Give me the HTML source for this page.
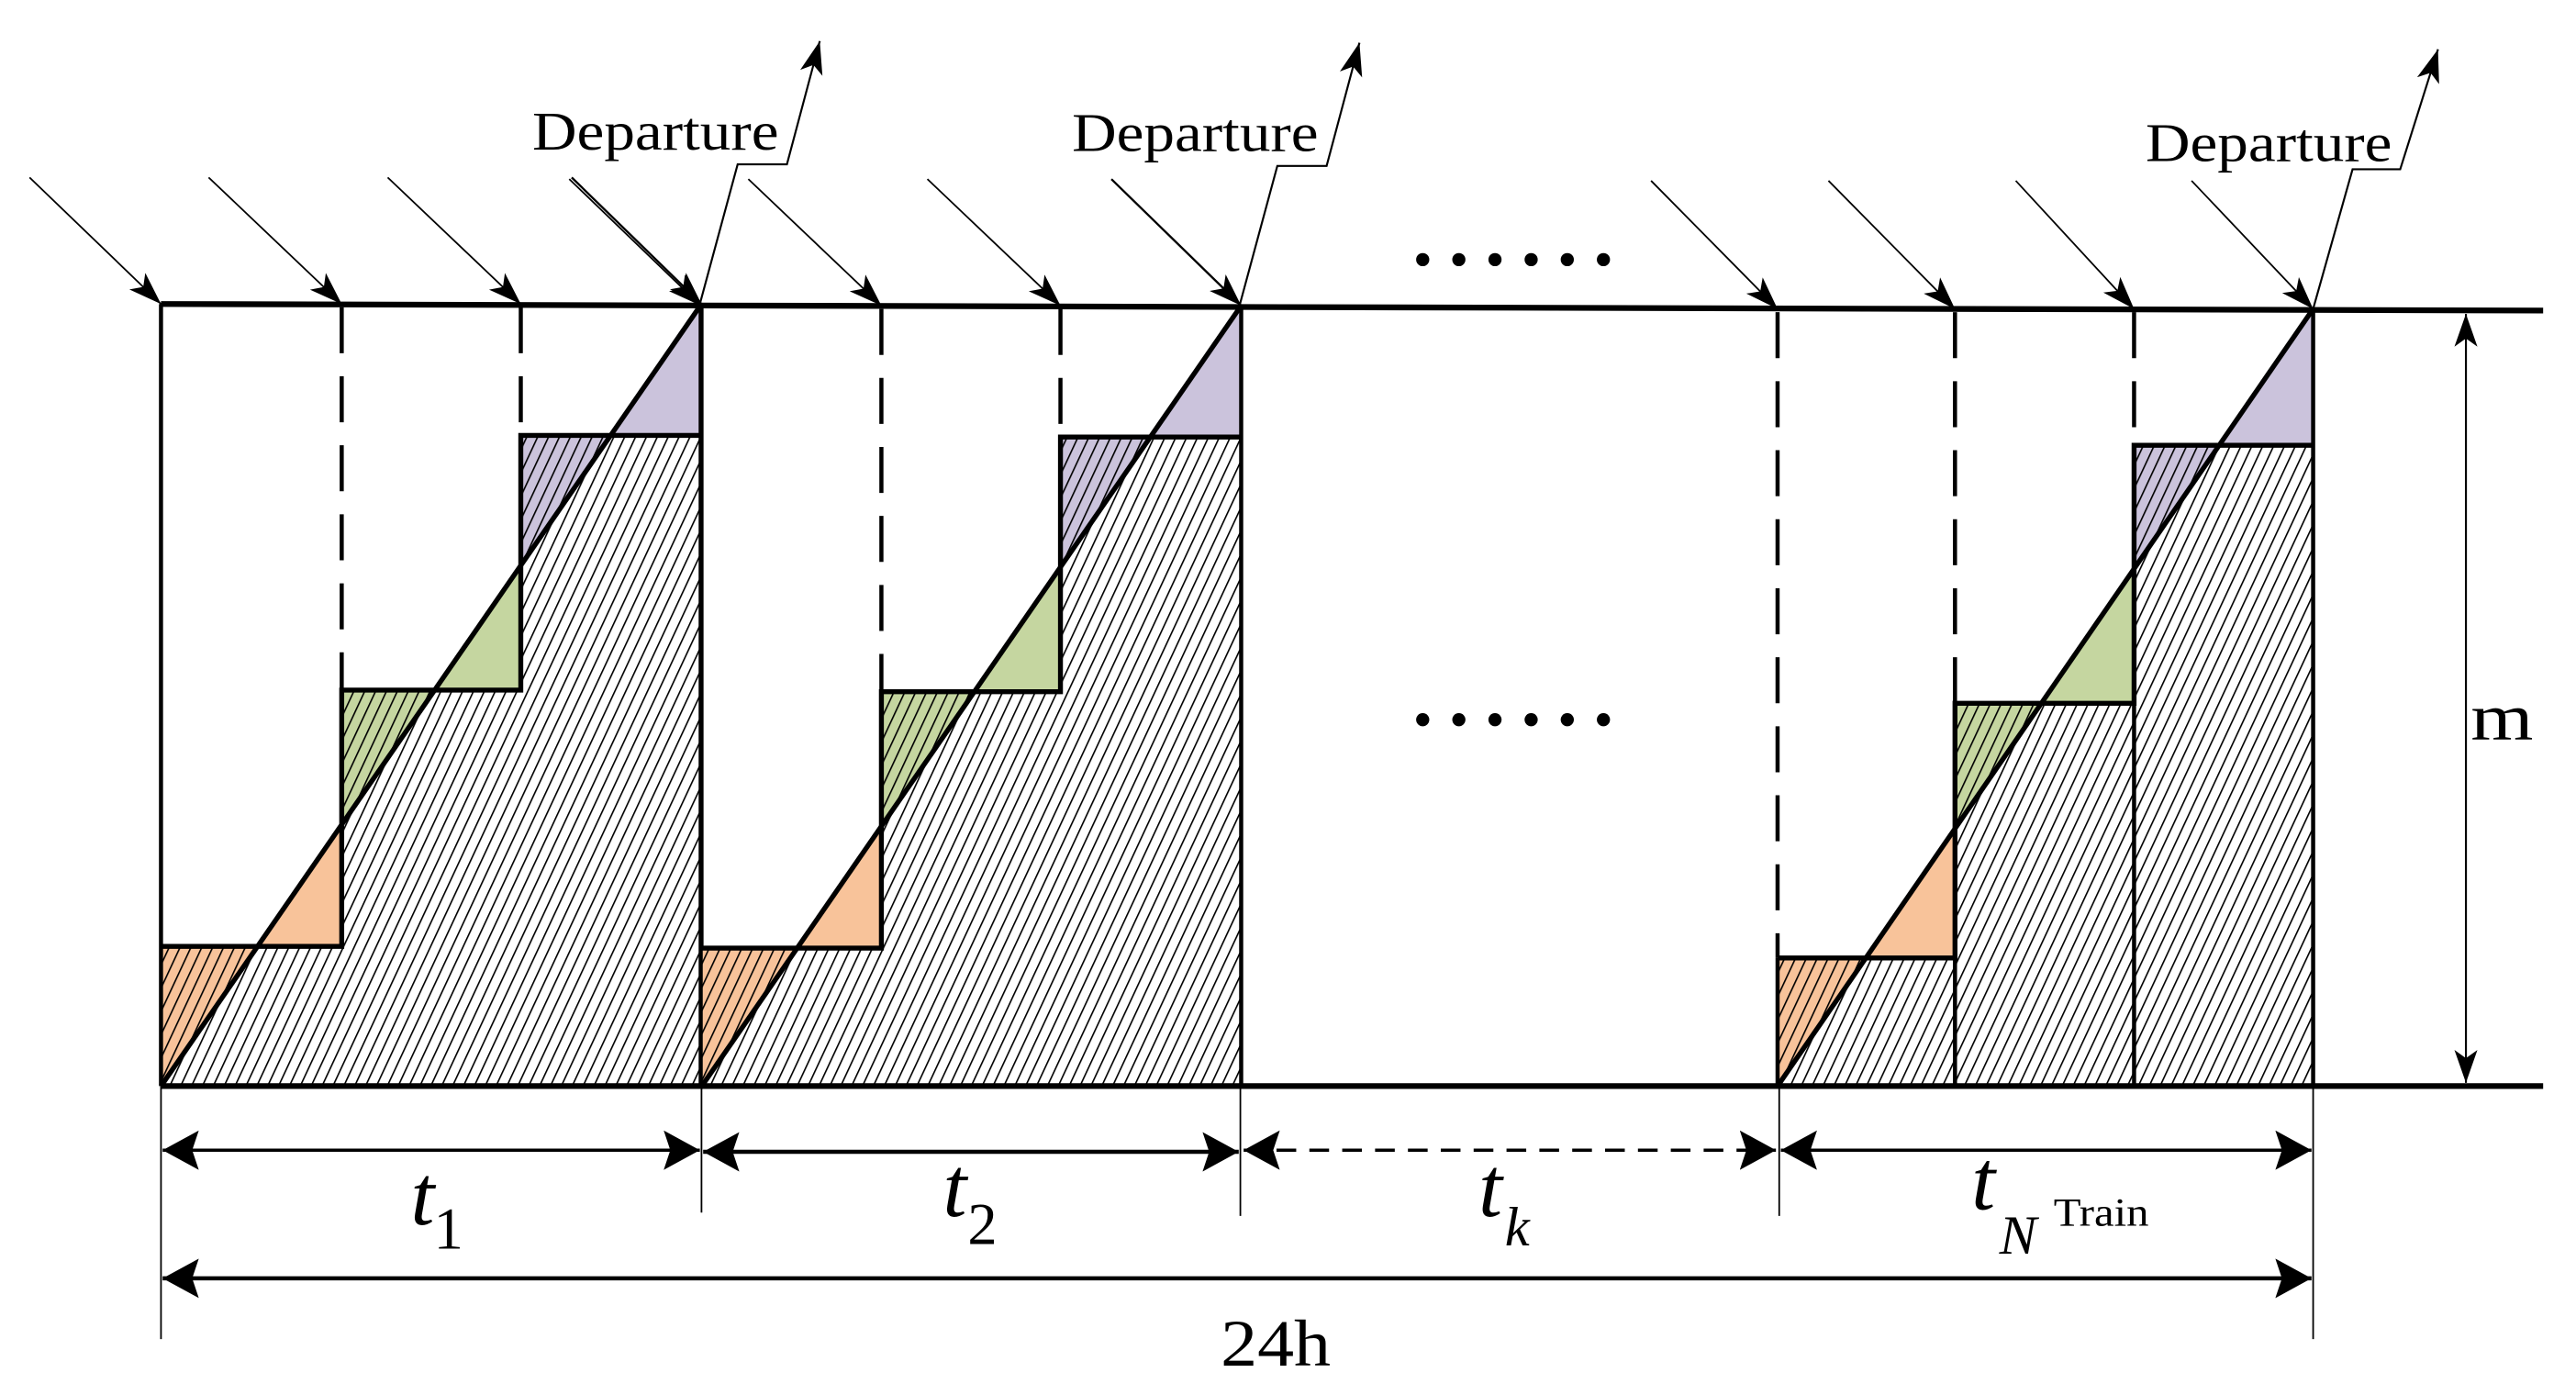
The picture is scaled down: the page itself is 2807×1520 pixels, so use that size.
<!DOCTYPE html>
<html><head><meta charset="utf-8"><style>
html,body{margin:0;padding:0;background:#fff;}
svg{display:block;}
text{font-family:"Liberation Serif",serif;fill:#000;}
</style></head><body>
<svg width="2807" height="1520" viewBox="0 0 1568 849" preserveAspectRatio="none" xmlns="http://www.w3.org/2000/svg">
<defs>
<pattern id="h" patternUnits="userSpaceOnUse" width="6" height="20" patternTransform="rotate(25)">
<line x1="1" y1="0" x2="1" y2="20" stroke="#000" stroke-width="0.9"/>
</pattern>
<marker id="a" markerUnits="userSpaceOnUse" markerWidth="24" markerHeight="16" refX="20" refY="7" orient="auto-start-reverse">
<path d="M0,0 L20,7 L0,14 L5,7 Z" fill="#000"/>
</marker>
<marker id="d" markerUnits="userSpaceOnUse" markerWidth="24" markerHeight="26" refX="22" refY="12" orient="auto-start-reverse">
<path d="M0,0 L22,12 L0,24 L4,12 Z" fill="#000"/>
</marker>
</defs>

<g id="box">
<polygon points="98,661 98,576 157,576" fill="#f8c39a"/>
<polygon points="157,576 208,576 208,502" fill="#f8c39a"/>
<polygon points="208,502 208,420 265,420" fill="#c5d6a0"/>
<polygon points="265,420 317,420 317,344" fill="#c5d6a0"/>
<polygon points="317,344 317,265 372,265" fill="#cbc3dc"/>
<polygon points="372,265 427,265 427,185" fill="#cbc3dc"/>
<polygon points="98,661 98,576 208,576 208,420 317,420 317,265 427,265 427,661" fill="url(#h)"/>
<polyline points="98,576 208,576 208,420 317,420 317,265 427,265" fill="none" stroke="#000" stroke-width="3"/>
<line x1="208" y1="187" x2="208" y2="420" stroke="#000" stroke-width="2.5" stroke-dasharray="28,14"/>
<line x1="317" y1="187" x2="317" y2="265" stroke="#000" stroke-width="2.5" stroke-dasharray="28,14"/>
<line x1="98" y1="185" x2="98" y2="661" stroke="#000" stroke-width="2.5"/>
<line x1="427" y1="185" x2="427" y2="661" stroke="#000" stroke-width="2.5"/>
<line x1="98" y1="661" x2="427" y2="185" stroke="#000" stroke-width="3"/>
<line x1="18" y1="108" x2="98" y2="185" stroke="#000" stroke-width="1" marker-end="url(#a)"/>
<line x1="127" y1="108" x2="208" y2="185" stroke="#000" stroke-width="1" marker-end="url(#a)"/>
<line x1="236" y1="108" x2="317" y2="185" stroke="#000" stroke-width="1" marker-end="url(#a)"/>
<line x1="348" y1="108" x2="427" y2="185" stroke="#000" stroke-width="1.3" marker-end="url(#a)"/>
<polyline points="426,185 449,100 479,100 499,25" fill="none" stroke="#000" stroke-width="1.2" marker-end="url(#a)"/>
<text x="324" y="91" font-size="33" textLength="150" lengthAdjust="spacingAndGlyphs">Departure</text>
</g>
<use href="#box" transform="translate(328.5,1)"/>

<line x1="98" y1="185" x2="1548" y2="189" stroke="#000" stroke-width="3.5"/>
<line x1="98" y1="661" x2="1548" y2="661" stroke="#000" stroke-width="3.5"/>

<polygon points="1082,661 1082,583 1136,583" fill="#f8c39a"/>
<polygon points="1136,583 1190,583 1190,504" fill="#f8c39a"/>
<polygon points="1190,504 1190,428 1243,428" fill="#c5d6a0"/>
<polygon points="1243,428 1299,428 1299,346" fill="#c5d6a0"/>
<polygon points="1299,346 1299,271 1351,271" fill="#cbc3dc"/>
<polygon points="1351,271 1408,271 1408,188" fill="#cbc3dc"/>
<polygon points="1082,661 1082,583 1190,583 1190,428 1299,428 1299,271 1408,271 1408,661" fill="url(#h)"/>
<polyline points="1082,583 1190,583 1190,428 1299,428 1299,271 1408,271" fill="none" stroke="#000" stroke-width="3"/>
<line x1="1082" y1="190" x2="1082" y2="583" stroke="#000" stroke-width="2.5" stroke-dasharray="28,14"/>
<line x1="1190" y1="190" x2="1190" y2="428" stroke="#000" stroke-width="2.5" stroke-dasharray="28,14"/>
<line x1="1299" y1="190" x2="1299" y2="271" stroke="#000" stroke-width="2.5" stroke-dasharray="28,14"/>
<line x1="1082" y1="583" x2="1082" y2="661" stroke="#000" stroke-width="2.5"/>
<line x1="1190" y1="428" x2="1190" y2="661" stroke="#000" stroke-width="2.5"/>
<line x1="1299" y1="271" x2="1299" y2="661" stroke="#000" stroke-width="2.5"/>
<line x1="1408" y1="188" x2="1408" y2="661" stroke="#000" stroke-width="2.5"/>
<line x1="1082" y1="661" x2="1408" y2="188" stroke="#000" stroke-width="3"/>
<line x1="1005" y1="110" x2="1082" y2="188" stroke="#000" stroke-width="1" marker-end="url(#a)"/>
<line x1="1113" y1="110" x2="1190" y2="188" stroke="#000" stroke-width="1" marker-end="url(#a)"/>
<line x1="1227" y1="110" x2="1299" y2="188" stroke="#000" stroke-width="1" marker-end="url(#a)"/>
<line x1="1334" y1="110" x2="1408" y2="188" stroke="#000" stroke-width="1" marker-end="url(#a)"/>
<polyline points="1408,188 1432,103 1461,103 1484,30" fill="none" stroke="#000" stroke-width="1.2" marker-end="url(#a)"/>
<text x="1306" y="98" font-size="33" textLength="150" lengthAdjust="spacingAndGlyphs">Departure</text>

<g fill="#000">
<circle cx="866" cy="158" r="4"/><circle cx="888" cy="158" r="4"/><circle cx="910" cy="158" r="4"/><circle cx="932" cy="158" r="4"/><circle cx="954" cy="158" r="4"/><circle cx="976" cy="158" r="4"/>
<circle cx="866" cy="438" r="4"/><circle cx="888" cy="438" r="4"/><circle cx="910" cy="438" r="4"/><circle cx="932" cy="438" r="4"/><circle cx="954" cy="438" r="4"/><circle cx="976" cy="438" r="4"/>
</g>

<line x1="1501" y1="191" x2="1501" y2="659" stroke="#000" stroke-width="1.2" marker-start="url(#a)" marker-end="url(#a)"/>
<text x="1504" y="450" font-size="40" textLength="38" lengthAdjust="spacingAndGlyphs">m</text>

<g stroke="#000" stroke-width="1">
<line x1="98" y1="661" x2="98" y2="815"/>
<line x1="427" y1="661" x2="427" y2="738"/>
<line x1="755" y1="661" x2="755" y2="740"/>
<line x1="1083" y1="661" x2="1083" y2="740"/>
<line x1="1408" y1="661" x2="1408" y2="815"/>
</g>
<line x1="99" y1="700" x2="426" y2="700" stroke="#000" stroke-width="2" marker-start="url(#d)" marker-end="url(#d)"/>
<line x1="428" y1="701" x2="754" y2="701" stroke="#000" stroke-width="2.5" marker-start="url(#d)" marker-end="url(#d)"/>
<line x1="757" y1="700" x2="1081" y2="700" stroke="#000" stroke-width="2" stroke-dasharray="12,8" marker-start="url(#d)" marker-end="url(#d)"/>
<line x1="1084" y1="700" x2="1407" y2="700" stroke="#000" stroke-width="2" marker-start="url(#d)" marker-end="url(#d)"/>
<line x1="99" y1="778" x2="1407" y2="778" stroke="#000" stroke-width="2.5" marker-start="url(#d)" marker-end="url(#d)"/>

<text x="250" y="745" font-size="52" font-style="italic">t</text><text x="264" y="760" font-size="36">1</text>
<text x="574" y="740" font-size="52" font-style="italic">t</text><text x="589" y="757" font-size="36">2</text>
<text x="900" y="740" font-size="52" font-style="italic">t</text><text x="916" y="758" font-size="34" font-style="italic">k</text>
<text x="1200" y="736" font-size="52" font-style="italic">t</text><text x="1217" y="763" font-size="34" font-style="italic">N</text><text x="1250" y="746" font-size="24" textLength="58" lengthAdjust="spacingAndGlyphs">Train</text>
<text x="743" y="831" font-size="40" textLength="67" lengthAdjust="spacingAndGlyphs">24h</text>
</svg>
</body></html>
